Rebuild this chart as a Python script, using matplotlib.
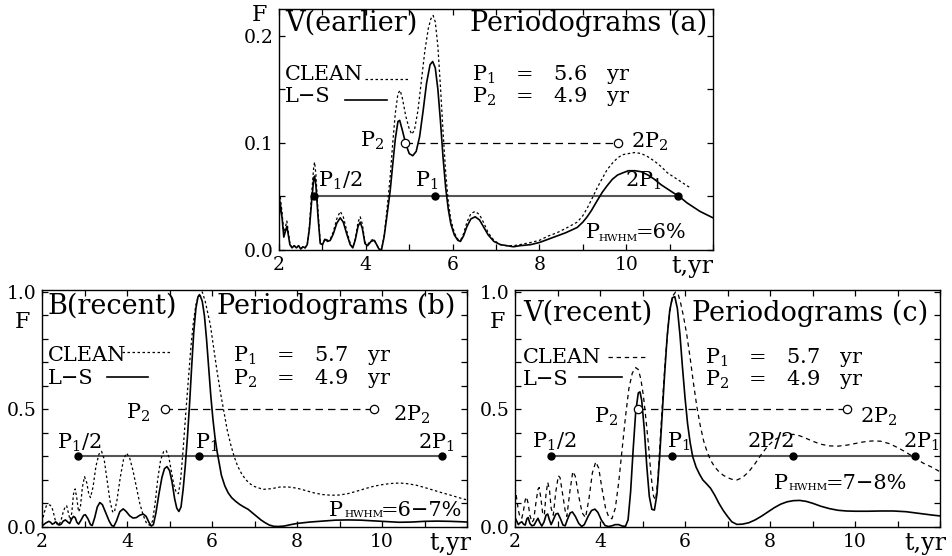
import numpy as np
import matplotlib.pyplot as plt
from matplotlib.ticker import MultipleLocator, FixedLocator

plt.rcParams['font.family'] = 'DejaVu Serif'
plt.rcParams['mathtext.fontset'] = 'dejavuserif'

# ---- panel (a): V(earlier) ----
t_a = [2.00, 2.03, 2.07, 2.11, 2.15, 2.18, 2.21, 2.25, 2.30, 2.35, 2.40, 2.45, 2.50, 2.55,
       2.60, 2.65, 2.70, 2.75, 2.80, 2.82, 2.85, 2.90, 2.95, 3.00, 3.06, 3.12, 3.18, 3.25,
       3.33, 3.41, 3.48, 3.56, 3.64, 3.70, 3.76, 3.82, 3.87, 3.92, 3.98, 4.04, 4.12, 4.19,
       4.25, 4.30, 4.36, 4.42, 4.48, 4.56, 4.62, 4.68, 4.74, 4.78, 4.84, 4.92, 5.00, 5.08,
       5.16, 5.24, 5.32, 5.40, 5.48, 5.54, 5.60, 5.66, 5.72, 5.78, 5.84, 5.90, 5.96, 6.04,
       6.12, 6.18, 6.25, 6.33, 6.42, 6.52, 6.62, 6.72, 6.82, 6.95, 7.10, 7.25, 7.40, 7.55,
       7.80, 8.00, 8.20, 8.40, 8.60, 8.87, 9.00, 9.10, 9.20, 9.33, 9.45, 9.56, 9.68, 9.80,
       9.92, 10.05, 10.20, 10.35, 10.50, 10.65, 10.80, 10.95, 11.10, 11.25, 11.40, 11.55,
       11.70, 11.85, 12.00]
ls_a = [0.030, 0.043, 0.030, 0.012, 0.018, 0.022, 0.015, 0.005, 0.002, 0.004, 0.002, 0.004,
        0.001, 0.003, 0.002, 0.005, 0.020, 0.045, 0.067, 0.069, 0.060, 0.030, 0.006, 0.005,
        0.010, 0.008, 0.009, 0.015, 0.025, 0.030, 0.026, 0.015, 0.005, 0.002, 0.010, 0.022,
        0.026, 0.020, 0.006, 0.004, 0.008, 0.009, 0.005, 0.001, 0.000, 0.012, 0.030, 0.055,
        0.080, 0.104, 0.120, 0.121, 0.112, 0.099, 0.090, 0.088, 0.092, 0.106, 0.130, 0.156,
        0.173, 0.176, 0.170, 0.150, 0.120, 0.086, 0.058, 0.038, 0.024, 0.014, 0.009, 0.008,
        0.013, 0.022, 0.029, 0.031, 0.028, 0.021, 0.014, 0.008, 0.005, 0.004, 0.003, 0.004,
        0.005, 0.007, 0.010, 0.013, 0.016, 0.021, 0.026, 0.031, 0.037, 0.046, 0.054, 0.060,
        0.066, 0.070, 0.072, 0.074, 0.074, 0.073, 0.070, 0.066, 0.061, 0.057, 0.053, 0.049,
        0.044, 0.040, 0.036, 0.033, 0.030]
tc_a = [2.00, 2.03, 2.07, 2.11, 2.15, 2.18, 2.21, 2.25, 2.30, 2.35, 2.40, 2.45, 2.50, 2.55,
        2.60, 2.65, 2.70, 2.75, 2.80, 2.82, 2.85, 2.90, 2.95, 3.00, 3.06, 3.12, 3.18, 3.25,
        3.33, 3.41, 3.48, 3.56, 3.64, 3.70, 3.76, 3.82, 3.87, 3.92, 3.98, 4.04, 4.12, 4.19,
        4.25, 4.30, 4.36, 4.42, 4.48, 4.56, 4.62, 4.68, 4.74, 4.79, 4.84, 4.92, 5.00, 5.06,
        5.12, 5.20, 5.28, 5.36, 5.44, 5.50, 5.55, 5.60, 5.66, 5.72, 5.78, 5.84, 5.90, 5.96,
        6.04, 6.12, 6.18, 6.25, 6.33, 6.42, 6.52, 6.62, 6.72, 6.82, 6.95, 7.10, 7.25, 7.40,
        7.55, 7.80, 8.00, 8.20, 8.40, 8.60, 8.87, 9.00, 9.10, 9.20, 9.33, 9.45, 9.56, 9.68,
        9.80, 9.92, 10.05, 10.20, 10.35, 10.50, 10.65, 10.80, 10.95, 11.10, 11.25, 11.40, 11.48]
clean_a = [0.030, 0.049, 0.035, 0.015, 0.022, 0.027, 0.018, 0.006, 0.002, 0.004, 0.002, 0.004,
           0.001, 0.003, 0.002, 0.005, 0.022, 0.052, 0.078, 0.082, 0.070, 0.035, 0.007, 0.005,
           0.011, 0.009, 0.010, 0.017, 0.029, 0.036, 0.031, 0.018, 0.006, 0.002, 0.011, 0.026,
           0.031, 0.024, 0.007, 0.005, 0.009, 0.010, 0.005, 0.001, 0.000, 0.013, 0.035, 0.068,
           0.100, 0.128, 0.146, 0.149, 0.142, 0.125, 0.113, 0.108, 0.112, 0.130, 0.158, 0.186,
           0.207, 0.216, 0.219, 0.213, 0.190, 0.152, 0.110, 0.072, 0.045, 0.028, 0.016, 0.010,
           0.009, 0.015, 0.026, 0.034, 0.036, 0.033, 0.025, 0.016, 0.009, 0.005, 0.004, 0.004,
           0.005, 0.007, 0.009, 0.013, 0.016, 0.020, 0.026, 0.032, 0.039, 0.047, 0.058, 0.067,
           0.075, 0.081, 0.086, 0.089, 0.090, 0.091, 0.090, 0.087, 0.083, 0.078, 0.072, 0.068,
           0.064, 0.060, 0.058]

# ---- panel (b): B(recent) ----
t_b = [2.00, 2.04, 2.08, 2.12, 2.16, 2.20, 2.24, 2.28, 2.32, 2.36, 2.40, 2.45, 2.50, 2.55,
       2.60, 2.65, 2.70, 2.74, 2.78, 2.82, 2.86, 2.92, 2.98, 3.02, 3.08, 3.14, 3.18, 3.24,
       3.30, 3.36, 3.42, 3.50, 3.58, 3.64, 3.69, 3.75, 3.83, 3.91, 3.98, 4.06, 4.14, 4.22,
       4.30, 4.38, 4.45, 4.52, 4.57, 4.62, 4.68, 4.75, 4.82, 4.88, 4.94, 5.00, 5.06, 5.12,
       5.17, 5.22, 5.27, 5.32, 5.37, 5.42, 5.47, 5.52, 5.57, 5.62, 5.67, 5.72, 5.77, 5.82,
       5.87, 5.92, 5.97, 6.02, 6.07, 6.12, 6.17, 6.22, 6.30, 6.38, 6.46, 6.55, 6.65, 6.75,
       6.85, 6.95, 7.05, 7.15, 7.25, 7.35, 7.45, 7.55, 7.70, 7.85, 8.00, 8.30, 8.60, 8.90,
       9.20, 9.50, 9.80, 10.10, 10.40, 10.70, 11.00, 11.30, 11.60, 11.90, 12.00]
ls_b = [0.005, 0.010, 0.016, 0.020, 0.024, 0.020, 0.012, 0.015, 0.022, 0.016, 0.008, 0.012,
        0.025, 0.030, 0.022, 0.015, 0.035, 0.045, 0.040, 0.020, 0.012, 0.030, 0.050, 0.052,
        0.035, 0.010, 0.006, 0.040, 0.085, 0.104, 0.095, 0.060, 0.025, 0.006, 0.003, 0.025,
        0.065, 0.077, 0.066, 0.048, 0.038, 0.040, 0.050, 0.055, 0.045, 0.018, 0.004, 0.010,
        0.060, 0.140, 0.210, 0.248, 0.257, 0.240, 0.190, 0.120, 0.080, 0.066, 0.085, 0.160,
        0.260, 0.380, 0.520, 0.680, 0.830, 0.930, 0.980, 0.985, 0.960, 0.900, 0.800, 0.680,
        0.560, 0.460, 0.380, 0.320, 0.270, 0.220, 0.175, 0.145, 0.125, 0.110, 0.096, 0.085,
        0.075, 0.060, 0.045, 0.030, 0.018, 0.008, 0.003, 0.002, 0.004, 0.010, 0.015, 0.021,
        0.025, 0.029, 0.030, 0.029, 0.026, 0.023, 0.020, 0.021, 0.024, 0.025, 0.024, 0.022,
        0.021]
tc_b = [2.00, 2.05, 2.10, 2.15, 2.19, 2.23, 2.27, 2.31, 2.36, 2.40, 2.45, 2.50, 2.55, 2.58,
        2.62, 2.66, 2.70, 2.74, 2.78, 2.82, 2.86, 2.90, 2.95, 3.00, 3.05, 3.10, 3.14, 3.20,
        3.27, 3.34, 3.40, 3.46, 3.53, 3.60, 3.66, 3.70, 3.76, 3.84, 3.92, 3.99, 4.06, 4.14,
        4.22, 4.30, 4.38, 4.46, 4.54, 4.60, 4.66, 4.72, 4.79, 4.86, 4.92, 4.98, 5.04, 5.10,
        5.16, 5.21, 5.26, 5.32, 5.38, 5.44, 5.50, 5.56, 5.62, 5.68, 5.77, 5.84, 5.90, 5.96,
        6.04, 6.12, 6.20, 6.28, 6.36, 6.44, 6.52, 6.60, 6.70, 6.80, 6.90, 7.00, 7.20, 7.40,
        7.60, 7.80, 8.00, 8.20, 8.40, 8.60, 8.80, 9.00, 9.20, 9.40, 9.60, 9.80, 10.00, 10.20,
        10.42, 10.60, 10.80, 11.00, 11.20, 11.40, 11.60, 11.80, 12.00]
clean_b = [0.020, 0.060, 0.090, 0.095, 0.093, 0.085, 0.060, 0.030, 0.010, 0.008, 0.030, 0.065,
           0.088, 0.090, 0.060, 0.030, 0.060, 0.140, 0.162, 0.120, 0.065, 0.080, 0.170, 0.214,
           0.190, 0.140, 0.125, 0.170, 0.260, 0.310, 0.322, 0.290, 0.200, 0.110, 0.065, 0.062,
           0.110, 0.210, 0.290, 0.314, 0.295, 0.240, 0.170, 0.100, 0.050, 0.015, 0.007, 0.025,
           0.100, 0.200, 0.285, 0.320, 0.326, 0.300, 0.240, 0.180, 0.145, 0.142, 0.200, 0.330,
           0.480, 0.620, 0.760, 0.870, 0.945, 0.985, 1.000, 0.960, 0.910, 0.860, 0.760, 0.660,
           0.570, 0.490, 0.410, 0.350, 0.300, 0.260, 0.225, 0.200, 0.183, 0.172, 0.160, 0.163,
           0.170, 0.170, 0.165, 0.155, 0.145, 0.138, 0.135, 0.136, 0.142, 0.152, 0.163, 0.173,
           0.180, 0.185, 0.187, 0.184, 0.178, 0.168, 0.157, 0.146, 0.136, 0.125, 0.115]

# ---- panel (c): V(recent) ----
t_c = [2.00, 2.04, 2.08, 2.12, 2.16, 2.20, 2.24, 2.28, 2.31, 2.35, 2.40, 2.45, 2.50, 2.54,
       2.58, 2.63, 2.68, 2.73, 2.77, 2.81, 2.85, 2.90, 2.96, 3.01, 3.07, 3.13, 3.18, 3.24,
       3.30, 3.35, 3.42, 3.50, 3.57, 3.63, 3.72, 3.80, 3.88, 3.95, 4.03, 4.12, 4.20, 4.28,
       4.36, 4.44, 4.52, 4.60, 4.66, 4.72, 4.78, 4.84, 4.90, 4.94, 4.98, 5.04, 5.10, 5.16,
       5.22, 5.28, 5.34, 5.40, 5.46, 5.52, 5.58, 5.64, 5.70, 5.76, 5.82, 5.88, 5.94, 6.00,
       6.06, 6.12, 6.18, 6.26, 6.34, 6.42, 6.50, 6.60, 6.70, 6.80, 6.90, 7.00, 7.10, 7.22,
       7.35, 7.50, 7.65, 7.80, 7.95, 8.10, 8.25, 8.40, 8.55, 8.70, 8.85, 9.00, 9.20, 9.40,
       9.60, 9.80, 10.00, 10.30, 10.60, 10.90, 11.20, 11.50, 11.80, 12.00]
ls_c = [0.040, 0.025, 0.010, 0.018, 0.022, 0.012, 0.008, 0.035, 0.040, 0.015, 0.005, 0.008,
        0.025, 0.037, 0.020, 0.004, 0.020, 0.050, 0.055, 0.030, 0.010, 0.030, 0.055, 0.058,
        0.035, 0.008, 0.005, 0.035, 0.060, 0.064, 0.045, 0.015, 0.002, 0.010, 0.045, 0.070,
        0.076, 0.062, 0.030, 0.006, 0.002, 0.005, 0.010, 0.010, 0.004, 0.003, 0.030, 0.150,
        0.330, 0.490, 0.570, 0.575, 0.540, 0.420, 0.260, 0.130, 0.075, 0.072, 0.140, 0.290,
        0.470, 0.650, 0.810, 0.920, 0.975, 0.980, 0.930, 0.820, 0.680, 0.550, 0.440, 0.360,
        0.300, 0.255, 0.225, 0.200, 0.185, 0.165, 0.135, 0.100, 0.070, 0.045, 0.022, 0.011,
        0.012, 0.018, 0.030, 0.046, 0.064, 0.082, 0.097, 0.107, 0.112, 0.113, 0.109, 0.101,
        0.088, 0.078, 0.071, 0.068, 0.067, 0.067, 0.068, 0.068, 0.065, 0.058, 0.051, 0.047]
tc_c = [2.00, 2.04, 2.08, 2.12, 2.16, 2.20, 2.24, 2.27, 2.31, 2.35, 2.40, 2.44, 2.49, 2.54,
        2.57, 2.61, 2.65, 2.69, 2.73, 2.77, 2.81, 2.85, 2.90, 2.96, 3.02, 3.06, 3.12, 3.18,
        3.22, 3.29, 3.36, 3.42, 3.50, 3.58, 3.66, 3.74, 3.82, 3.90, 3.97, 4.05, 4.13, 4.21,
        4.28, 4.36, 4.44, 4.52, 4.60, 4.68, 4.76, 4.84, 4.90, 4.96, 5.02, 5.08, 5.14, 5.20,
        5.26, 5.31, 5.36, 5.42, 5.48, 5.54, 5.60, 5.66, 5.72, 5.78, 5.84, 5.90, 5.96, 6.04,
        6.12, 6.20, 6.28, 6.36, 6.44, 6.52, 6.60, 6.70, 6.80, 6.90, 7.00, 7.10, 7.22, 7.35,
        7.50, 7.65, 7.80, 7.95, 8.10, 8.25, 8.40, 8.55, 8.70, 8.85, 9.00, 9.20, 9.40, 9.60,
        9.80, 10.00, 10.20, 10.40, 10.60, 10.80, 11.00, 11.20, 11.40, 11.60, 11.80, 12.00]
clean_c = [0.170, 0.120, 0.070, 0.040, 0.037, 0.070, 0.115, 0.128, 0.100, 0.050, 0.020, 0.030,
           0.100, 0.160, 0.168, 0.120, 0.060, 0.050, 0.140, 0.190, 0.160, 0.080, 0.050, 0.150,
           0.218, 0.210, 0.140, 0.070, 0.045, 0.150, 0.236, 0.215, 0.130, 0.060, 0.040, 0.120,
           0.230, 0.277, 0.250, 0.160, 0.080, 0.040, 0.035, 0.080, 0.190, 0.330, 0.470, 0.590,
           0.655, 0.678, 0.670, 0.630, 0.560, 0.460, 0.350, 0.220, 0.130, 0.115, 0.200, 0.380,
           0.560, 0.720, 0.850, 0.940, 0.985, 1.000, 0.990, 0.950, 0.900, 0.820, 0.720, 0.610,
           0.510, 0.430, 0.365, 0.320, 0.285, 0.255, 0.235, 0.220, 0.210, 0.203, 0.200, 0.210,
           0.235, 0.270, 0.310, 0.345, 0.370, 0.385, 0.392, 0.394, 0.388, 0.377, 0.365, 0.352,
           0.345, 0.344, 0.348, 0.355, 0.362, 0.366, 0.365, 0.355, 0.338, 0.318, 0.295, 0.272,
           0.255, 0.235]

# period markers
filled_a = [2.8, 5.6, 11.2]
open_a = [4.9, 9.8]
filled_b = [2.85, 5.7, 11.4]
open_b = [4.9, 9.8]
filled_c = [2.85, 5.7, 8.55, 11.4]
open_c = [4.9, 9.8]
x_labels = [2, 4, 6, 8, 10]

MINUS = '\u2212'

fig = plt.figure(figsize=(9.53, 5.56), dpi=100)


def setup(ax, ymax, ymajor, yminor):
    ax.set_xlim(2, 12)
    ax.set_ylim(0, ymax)
    ax.xaxis.set_major_locator(FixedLocator(x_labels))
    ax.xaxis.set_minor_locator(MultipleLocator(1))
    ax.yaxis.set_major_locator(MultipleLocator(ymajor))
    ax.yaxis.set_minor_locator(MultipleLocator(yminor))
    ax.yaxis.set_major_formatter(plt.FormatStrFormatter('%.1f'))
    ax.tick_params(which='both', direction='in', top=True, right=True,
                   length=4, width=0.9, labelsize=13.5, pad=4)
    for s in ax.spines.values():
        s.set_linewidth(1.0)


def draw(ax, t, ls, tc, clean, clean_dash, filled, open_, yfil, yopen):
    ax.plot(tc, clean, color='black', lw=0.9, dashes=clean_dash)
    ax.plot(t, ls, color='black', lw=1.2)
    ax.plot([filled[0], filled[-1]], [yfil, yfil], color='#555555', lw=1.5, zorder=1)
    ax.plot(filled, [yfil] * len(filled), 'o', color='black', ms=5, zorder=3)
    ax.plot(open_, [yopen, yopen], color='black', lw=0.9, dashes=(6, 4), zorder=1)
    ax.plot(open_, [yopen, yopen], 'o', mfc='white', mec='black', mew=0.9, ms=6, zorder=3)


def hwhm(ax, xp, xs, xe, y, ys, rest):
    # P with a small HWHM subscript, then the value
    ax.text(xp, y, 'P', fontsize=mid, va='center')
    ax.text(xs, ys, 'HWHM', fontsize=7.5, va='center')
    ax.text(xe, y, rest, fontsize=mid, va='center')


big = 19.5
mid = 15

# (a)
ax = fig.add_axes([0.2928, 0.5504, 0.4554, 0.4334])
setup(ax, 0.225, 0.1, 0.05)
draw(ax, t_a, ls_a, tc_a, clean_a, (2, 2), filled_a, open_a, 0.05, 0.1)
ax.text(2.14, 0.212, 'V(earlier)', fontsize=big, va='center')
ax.text(11.87, 0.212, 'Periodograms (a)', fontsize=big, va='center', ha='right')
ax.text(2.14, 0.1636, 'CLEAN', fontsize=mid, va='center')
ax.plot([3.98, 5.02], [0.160, 0.160], color='black', lw=0.9, dashes=(2, 2))
ax.text(2.14, 0.143, 'L' + MINUS + 'S', fontsize=mid, va='center')
ax.plot([3.52, 4.49], [0.140, 0.140], color='black', lw=1.2)
ax.text(6.45, 0.1636, r'P$_\mathrm{1}$   =   5.6   yr', fontsize=mid, va='center')
ax.text(6.45, 0.143, r'P$_\mathrm{2}$   =   4.9   yr', fontsize=mid, va='center')
ax.text(4.42, 0.102, r'P$_\mathrm{2}$', fontsize=mid, va='center', ha='right')
ax.text(10.1, 0.101, r'2P$_\mathrm{2}$', fontsize=mid, va='center')
ax.text(2.9, 0.065, r'P$_\mathrm{1}$/2', fontsize=mid, va='center')
ax.text(5.14, 0.065, r'P$_\mathrm{1}$', fontsize=mid, va='center')
ax.text(9.98, 0.065, r'2P$_\mathrm{1}$', fontsize=mid, va='center')
hwhm(ax, 9.06, 9.37, 10.22, 0.016, 0.011, '=6%')
ax.text(-0.045, 0.975, 'F', transform=ax.transAxes, fontsize=16, ha='center', va='center')
ax.text(0.952, -0.07, 't,yr', transform=ax.transAxes, fontsize=17, ha='center', va='center')

# (b)
ax = fig.add_axes([0.0441, 0.0522, 0.4460, 0.4263])
setup(ax, 1.0085, 0.5, 0.1)
draw(ax, t_b, ls_b, tc_b, clean_b, (2, 2), filled_b, open_b, 0.3, 0.5)
ax.text(2.14, 0.94, 'B(recent)', fontsize=big, va='center')
ax.text(11.72, 0.94, 'Periodograms (b)', fontsize=big, va='center', ha='right')
ax.text(2.14, 0.728, 'CLEAN', fontsize=mid, va='center')
ax.plot([3.88, 5.01], [0.745, 0.745], color='black', lw=0.9, dashes=(2, 2))
ax.text(2.14, 0.63, 'L' + MINUS + 'S', fontsize=mid, va='center')
ax.plot([3.53, 4.49], [0.64, 0.64], color='black', lw=1.2)
ax.text(6.49, 0.728, r'P$_\mathrm{1}$   =   5.7   yr', fontsize=mid, va='center')
ax.text(6.49, 0.63, r'P$_\mathrm{2}$   =   4.9   yr', fontsize=mid, va='center')
ax.text(4.54, 0.485, r'P$_\mathrm{2}$', fontsize=mid, va='center', ha='right')
ax.text(10.26, 0.477, r'2P$_\mathrm{2}$', fontsize=mid, va='center')
ax.text(2.35, 0.357, r'P$_\mathrm{1}$/2', fontsize=mid, va='center')
ax.text(5.6, 0.357, r'P$_\mathrm{1}$', fontsize=mid, va='center')
ax.text(10.85, 0.357, r'2P$_\mathrm{1}$', fontsize=mid, va='center')
hwhm(ax, 8.76, 9.12, 9.98, 0.072, 0.052, '=6' + MINUS + '7%')
ax.text(-0.047, 0.865, 'F', transform=ax.transAxes, fontsize=16, ha='center', va='center')
ax.text(0.96, -0.068, 't,yr', transform=ax.transAxes, fontsize=17, ha='center', va='center')

# (c)
ax = fig.add_axes([0.5404, 0.0522, 0.4460, 0.4263])
setup(ax, 1.0085, 0.5, 0.1)
draw(ax, t_c, ls_c, tc_c, clean_c, (3.5, 3), filled_c, open_c, 0.3, 0.5)
ax.text(2.19, 0.91, 'V(recent)', fontsize=big, va='center')
ax.text(11.72, 0.91, 'Periodograms (c)', fontsize=big, va='center', ha='right')
ax.text(2.19, 0.723, 'CLEAN', fontsize=mid, va='center')
ax.plot([4.19, 5.13], [0.723, 0.723], color='black', lw=0.9, dashes=(3.5, 3))
ax.text(2.19, 0.626, 'L' + MINUS + 'S', fontsize=mid, va='center')
ax.plot([3.5, 4.52], [0.638, 0.638], color='black', lw=1.2)
ax.text(6.47, 0.723, r'P$_\mathrm{1}$   =   5.7   yr', fontsize=mid, va='center')
ax.text(6.47, 0.626, r'P$_\mathrm{2}$   =   4.9   yr', fontsize=mid, va='center')
ax.text(4.42, 0.468, r'P$_\mathrm{2}$', fontsize=mid, va='center', ha='right')
ax.text(10.12, 0.468, r'2P$_\mathrm{2}$', fontsize=mid, va='center')
ax.text(2.4, 0.362, r'P$_\mathrm{1}$/2', fontsize=mid, va='center')
ax.text(5.58, 0.362, r'P$_\mathrm{1}$', fontsize=mid, va='center')
ax.text(7.46, 0.362, '2P/2', fontsize=mid, va='center')
ax.text(11.13, 0.362, r'2P$_\mathrm{1}$', fontsize=mid, va='center')
hwhm(ax, 8.08, 8.44, 9.32, 0.187, 0.167, '=7' + MINUS + '8%')
ax.text(-0.042, 0.865, 'F', transform=ax.transAxes, fontsize=16, ha='center', va='center')
ax.text(0.965, -0.068, 't,yr', transform=ax.transAxes, fontsize=17, ha='center', va='center')

fig.savefig('out.png', dpi=100)
